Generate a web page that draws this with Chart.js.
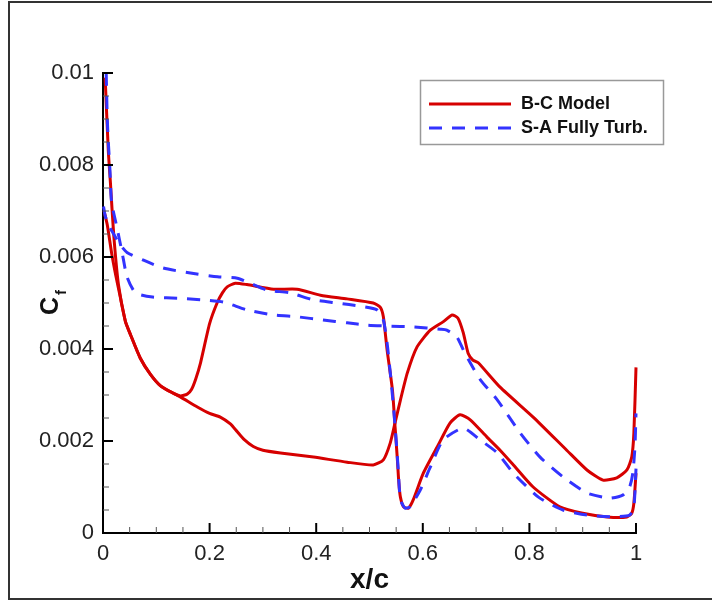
<!DOCTYPE html>
<html lang="en">
<head>
<meta charset="UTF-8">
<title>Cf distribution</title>
<script src="https://cdn.jsdelivr.net/npm/chart.js@4/dist/chart.umd.min.js"></script>
<style>
  html, body { margin: 0; padding: 0; background: #fff; }
  #wrap { position: relative; width: 712px; height: 605px; overflow: hidden; }
  #wrap canvas { position: absolute; left: 0; top: 0; }
  #frame { position: absolute; left: 8px; top: 1px; width: 730px; height: 599px;
           border: 2px solid #333; border-right: none; box-sizing: border-box; }
</style>
</head>
<body>
<div id="wrap">
  <canvas id="cf" width="712" height="605"></canvas>
  <div id="frame"></div>
</div>
<script>
// series names and axis ticks
const seriesNames = ['B-C Model', 'S-A Fully Turb.'];
const xTickValues = [0, 0.2, 0.4, 0.6, 0.8, 1];
const xTickLabels = ['0', '0.2', '0.4', '0.6', '0.8', '1'];
const yTickValues = [0, 0.002, 0.004, 0.006, 0.008, 0.01];
const yTickLabels = ['0', '0.002', '0.004', '0.006', '0.008', '0.01'];

// B-C model, branch that transitions near x/c = 0.15
const bcUpperX = [0.004, 0.010, 0.014, 0.020, 0.029, 0.042, 0.052, 0.070, 0.089, 0.108,
  0.130, 0.145, 0.158, 0.166, 0.174, 0.183, 0.200, 0.214, 0.224, 0.233,
  0.248, 0.270, 0.320, 0.364, 0.408, 0.458, 0.507, 0.520, 0.526, 0.533,
  0.543, 0.548, 0.552, 0.555, 0.558, 0.564, 0.573, 0.582, 0.601, 0.627,
  0.651, 0.670, 0.689, 0.720, 0.745, 0.770, 0.807, 0.857, 0.900, 0.946,
  0.983, 0.992, 0.996, 1.000];
const bcUpperY = [0.0099, 0.0083, 0.0076, 0.0065, 0.0054, 0.0046, 0.0043, 0.0038, 0.00345, 0.0032,
  0.00305, 0.00298, 0.00302, 0.00312, 0.00335, 0.0037, 0.00455, 0.0050, 0.00522, 0.00535,
  0.00543, 0.0054, 0.0053, 0.0053, 0.00517, 0.00509, 0.0050, 0.00491, 0.0047, 0.00398,
  0.00311, 0.0023, 0.00165, 0.0011, 0.00078, 0.00057, 0.00054, 0.00072, 0.0013, 0.00187,
  0.00239, 0.00257, 0.00246, 0.00209, 0.0018, 0.00148, 0.0010, 0.00057, 0.00043, 0.00035,
  0.00035, 0.00043, 0.00065, 0.0013];

// B-C model, laminar branch
const bcLowerX = [0.002, 0.008, 0.016, 0.024, 0.033, 0.042, 0.052, 0.070, 0.089, 0.108,
  0.130, 0.145, 0.177, 0.200, 0.220, 0.239, 0.252, 0.264, 0.282, 0.300,
  0.333, 0.395, 0.458, 0.507, 0.526, 0.539, 0.548, 0.558, 0.571, 0.589,
  0.614, 0.638, 0.655, 0.666, 0.676, 0.685, 0.694, 0.704, 0.745, 0.807,
  0.870, 0.908, 0.938, 0.964, 0.983, 0.992, 0.996, 1.000];
const bcLowerY = [0.0070, 0.0067, 0.0061, 0.0056, 0.0051, 0.0046, 0.0043, 0.0038, 0.00345, 0.0032,
  0.00305, 0.00296, 0.00274, 0.0026, 0.00252, 0.00237, 0.0022, 0.00204, 0.00188, 0.0018,
  0.00174, 0.00165, 0.00154, 0.00148, 0.00159, 0.00196, 0.0024, 0.00289, 0.00348, 0.00404,
  0.00441, 0.00459, 0.00474, 0.00467, 0.00435, 0.00391, 0.00376, 0.0037, 0.00317, 0.00252,
  0.0018, 0.00137, 0.00115, 0.0012, 0.00137, 0.00165, 0.00217, 0.0036];

// S-A fully turbulent, upper plateau branch
const saUpperX = [0.001, 0.004, 0.010, 0.020, 0.030, 0.045, 0.076, 0.113, 0.164, 0.215,
  0.252, 0.276, 0.308, 0.351, 0.394, 0.440, 0.483, 0.514, 0.526, 0.533,
  0.539, 0.545, 0.550, 0.554, 0.558, 0.567, 0.576, 0.595, 0.614, 0.638,
  0.676, 0.708, 0.740, 0.770, 0.817, 0.863, 0.908, 0.957, 0.988, 0.996,
  1.000];
const saUpperY = [0.0071, 0.0069, 0.0067, 0.0065, 0.0063, 0.0061, 0.00593, 0.00576, 0.00565, 0.00557,
  0.00554, 0.00543, 0.00528, 0.00522, 0.00507, 0.0050, 0.00493, 0.00485, 0.00463, 0.00413,
  0.00348, 0.00274, 0.00202, 0.00137, 0.00072, 0.00054, 0.00057, 0.00093, 0.00143, 0.00202,
  0.00228, 0.00202, 0.00174, 0.0013, 0.00078, 0.0005, 0.00039, 0.00035, 0.00039, 0.00057,
  0.0014];

// S-A fully turbulent, lower plateau branch
const saLowerX = [0.006, 0.008, 0.010, 0.013, 0.016, 0.026, 0.036, 0.045, 0.061, 0.093,
  0.145, 0.183, 0.226, 0.270, 0.320, 0.364, 0.413, 0.458, 0.496, 0.533,
  0.582, 0.633, 0.645, 0.664, 0.676, 0.689, 0.708, 0.740, 0.783, 0.820,
  0.863, 0.908, 0.951, 0.976, 0.988, 0.994, 0.998, 1.000];
const saLowerY = [0.0100, 0.0090, 0.0085, 0.0079, 0.0072, 0.00665, 0.00609, 0.00557, 0.00522, 0.00513,
  0.0051, 0.00507, 0.00502, 0.00485, 0.00474, 0.0047, 0.00463, 0.00457, 0.00452, 0.0045,
  0.00448, 0.00443, 0.00441, 0.00426, 0.00398, 0.0037, 0.00333, 0.00289, 0.00217, 0.00165,
  0.00122, 0.00087, 0.00076, 0.00083, 0.0010, 0.0013, 0.00187, 0.0026];

const RED = 'rgb(214,0,0)';
const BLUE = 'rgb(51,51,255)';
const DASH = [13, 10];
const FONT = '"Liberation Sans", Arial, Helvetica, sans-serif';

function pts(xs, ys) {
    return xs.map((x, i) => ({ x: x, y: ys[i] }));
}

function lineSet(label, xs, ys, color, dash, order, inLegend) {
    return {
        label: label,
        data: pts(xs, ys),
        showLine: true,
        borderColor: color,
        borderWidth: 3,
        borderDash: dash,
        pointRadius: 0,
        tension: 0.2,
        fill: false,
        clip: false,
        order: order,
        inLegend: inLegend
    };
}

function tick(ctx, x1, y1, x2, y2, w, color) {
    ctx.beginPath();
    ctx.lineWidth = w;
    ctx.strokeStyle = color;
    ctx.moveTo(x1, y1);
    ctx.lineTo(x2, y2);
    ctx.stroke();
}

// inward ticks, axis titles and the boxed legend
const decor = {
    id: 'decor',
    afterDatasetsDraw(chart) {
        const { ctx, chartArea: a, scales: { x, y } } = chart;
        ctx.save();

        for (let i = 0; i < xTickValues.length; i++) {
            const v = xTickValues[i];
            const px = x.getPixelForValue(v);
            tick(ctx, px, a.bottom, px, a.bottom - 10, 2, '#000');
            if (i < xTickValues.length - 1) {
                const step = (xTickValues[i + 1] - v) / 4;
                for (let k = 1; k < 4; k++) {
                    const mx = x.getPixelForValue(v + k * step);
                    tick(ctx, mx, a.bottom, mx, a.bottom - 6, 1, '#555');
                }
            }
        }
        for (let i = 0; i < yTickValues.length; i++) {
            const v = yTickValues[i];
            const py = y.getPixelForValue(v);
            tick(ctx, a.left, py, a.left + 10, py, 2, '#000');
            if (i < yTickValues.length - 1) {
                const step = (yTickValues[i + 1] - v) / 4;
                for (let k = 1; k < 4; k++) {
                    const my = y.getPixelForValue(v + k * step);
                    tick(ctx, a.left, my, a.left + 6, my, 1, '#555');
                }
            }
        }

        // x title
        ctx.fillStyle = '#111';
        ctx.font = 'bold 28px ' + FONT;
        ctx.textAlign = 'center';
        ctx.textBaseline = 'alphabetic';
        ctx.fillText('x/c', (a.left + a.right) / 2, 588);

        // y title C_f, rotated
        ctx.save();
        ctx.translate(58, 306);
        ctx.rotate(-Math.PI / 2);
        ctx.textAlign = 'left';
        ctx.font = 'bold 25px ' + FONT;
        ctx.fillText('C', -9, 0);
        ctx.font = 'bold 15px ' + FONT;
        ctx.fillText('f', 11, 8);
        ctx.restore();

        // legend box
        const lx = 420, ly = 80, lw = 243, lh = 64;
        ctx.fillStyle = '#fff';
        ctx.fillRect(lx, ly, lw, lh);
        ctx.lineWidth = 1.5;
        ctx.strokeStyle = '#999';
        ctx.strokeRect(lx + 0.5, ly + 0.5, lw, lh);
        chart.data.datasets.filter(d => d.inLegend).forEach((d, i) => {
            const yy = 104 + i * 24;
            ctx.beginPath();
            ctx.setLineDash(d.borderDash || []);
            ctx.lineWidth = 3;
            ctx.strokeStyle = d.borderColor;
            ctx.moveTo(429, yy);
            ctx.lineTo(511, yy);
            ctx.stroke();
            ctx.setLineDash([]);
            ctx.fillStyle = '#111';
            ctx.font = 'bold 18px ' + FONT;
            ctx.textAlign = 'left';
            ctx.textBaseline = 'middle';
            ctx.fillText(d.label, 521, yy);
        });

        ctx.restore();
    }
};

const tickFont = { family: FONT, size: 22 };

new Chart(document.getElementById('cf'), {
    type: 'scatter',
    data: {
        datasets: [
            lineSet(seriesNames[0], bcUpperX, bcUpperY, RED, [], 2, true),
            lineSet(seriesNames[0], bcLowerX, bcLowerY, RED, [], 2, false),
            lineSet(seriesNames[1], saUpperX, saUpperY, BLUE, DASH, 1, true),
            lineSet(seriesNames[1], saLowerX, saLowerY, BLUE, DASH, 1, false)
        ]
    },
    options: {
        responsive: false,
        animation: false,
        layout: { padding: { left: 0, right: 76, top: 73, bottom: 0 } },
        plugins: {
            legend: { display: false },
            tooltip: { enabled: false }
        },
        scales: {
            x: {
                type: 'linear',
                min: 0,
                max: 1,
                afterBuildTicks: s => { s.ticks = xTickValues.map(v => ({ value: v })); },
                afterFit: s => { s.height = 72; },
                grid: { display: false, drawTicks: false },
                border: { display: true, color: '#000', width: 2 },
                ticks: {
                    padding: 8,
                    color: '#222',
                    font: tickFont,
                    maxRotation: 0,
                    autoSkip: false,
                    callback: (v, i) => xTickLabels[i]
                }
            },
            y: {
                type: 'linear',
                min: 0,
                max: 0.01,
                afterBuildTicks: s => { s.ticks = yTickValues.map(v => ({ value: v })); },
                afterFit: s => { s.width = 103; },
                grid: { display: false, drawTicks: false },
                border: { display: true, color: '#000', width: 2 },
                ticks: {
                    padding: 9,
                    color: '#222',
                    font: tickFont,
                    autoSkip: false,
                    callback: (v, i) => yTickLabels[i]
                }
            }
        }
    },
    plugins: [decor]
});
</script>
</body>
</html>
